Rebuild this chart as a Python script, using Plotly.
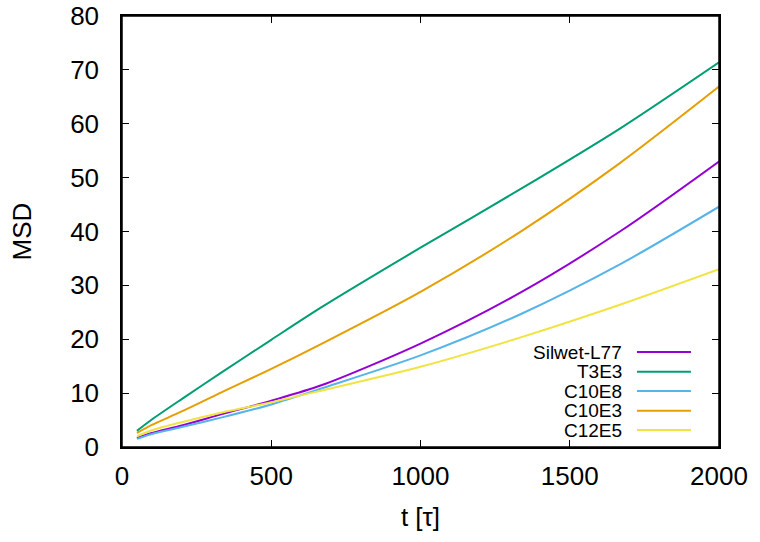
import plotly.graph_objects as go

# Data
t_values = [50, 100, 200, 335, 500, 670, 1000, 1333, 1668, 2000]
silwet_l77 = [1.7, 2.6, 4.0, 6.1, 8.6, 11.5, 19.2, 28.6, 40.0, 53.0]
t3e3 = [3.0, 5.1, 8.9, 13.9, 19.9, 26.0, 37.0, 47.8, 59.1, 71.4]
c10e8 = [1.5, 2.4, 3.7, 5.5, 7.9, 10.9, 17.0, 24.6, 33.9, 44.6]
c10e3 = [2.6, 4.1, 6.6, 10.2, 14.5, 19.2, 28.8, 39.9, 52.7, 66.9]
c12e5 = [2.0, 3.1, 4.6, 6.4, 8.3, 10.5, 14.9, 20.3, 26.4, 33.0]

series_names = ["Silwet-L77", "T3E3", "C10E8", "C10E3", "C12E5"]
series_values = [silwet_l77, t3e3, c10e8, c10e3, c12e5]
series_colors = ["#9400d3", "#009e73", "#56b4e9", "#e69f00", "#f0e442"]

x_ticks = [0, 500, 1000, 1500, 2000]
y_ticks = [0, 10, 20, 30, 40, 50, 60, 70, 80]

FONT = "Liberation Sans, Arial, Helvetica, sans-serif"

fig = go.Figure()
for name, vals, col in zip(series_names, series_values, series_colors):
    fig.add_trace(go.Scatter(
        x=t_values, y=vals, mode="lines", name=name,
        line=dict(color=col, width=2, shape="spline", smoothing=0.8),
        showlegend=False,
    ))

# gnuplot-style legend: right-aligned text, line sample to the right
row_y = [0.2204, 0.1747, 0.1299, 0.0842, 0.0394]
for name, col, yy in zip(series_names, series_colors, row_y):
    fig.add_annotation(
        x=0.841, y=yy, xref="paper", yref="paper", text=name,
        showarrow=False, xanchor="right", yanchor="middle",
        font=dict(family=FONT, size=19, color="black"),
    )
    fig.add_shape(
        type="line", xref="paper", yref="paper",
        x0=0.8626, x1=0.953, y0=yy, y1=yy,
        line=dict(color=col, width=2),
    )

# plot frame
fig.add_shape(
    type="rect", xref="paper", yref="paper", x0=0, x1=1, y0=0, y1=1,
    line=dict(color="black", width=1.5), layer="above",
)

axis_common = dict(
    showgrid=False, zeroline=False, automargin=False,
    showline=True, linecolor="black", linewidth=1.5, mirror="ticks",
    ticks="inside", ticklen=7, tickwidth=1, tickcolor="black",
    ticklabeloverflow="allow",
    tickfont=dict(family=FONT, size=26, color="black"),
)

fig.update_xaxes(
    range=[0, 2000], tickvals=x_ticks,
    ticktext=[str(v) for v in x_ticks],
    ticklabelstandoff=5,
    title=dict(text="t [τ]", font=dict(family=FONT, size=26, color="black"), standoff=18),
    **axis_common,
)
fig.update_yaxes(
    range=[0, 80], tickvals=y_ticks,
    ticktext=[str(v) for v in y_ticks],
    ticklabelstandoff=16,
    title=dict(text="MSD", font=dict(family=FONT, size=26, color="black"), standoff=31),
    **axis_common,
)

fig.update_layout(
    width=760, height=542,
    margin=dict(l=122, r=41, t=16, b=95),
    plot_bgcolor="white", paper_bgcolor="white",
    font=dict(family=FONT, color="black"),
)

fig.write_html(
    "out.html",
    config={"displayModeBar": False},
    post_script="document.body.style.margin='0px';",
)
